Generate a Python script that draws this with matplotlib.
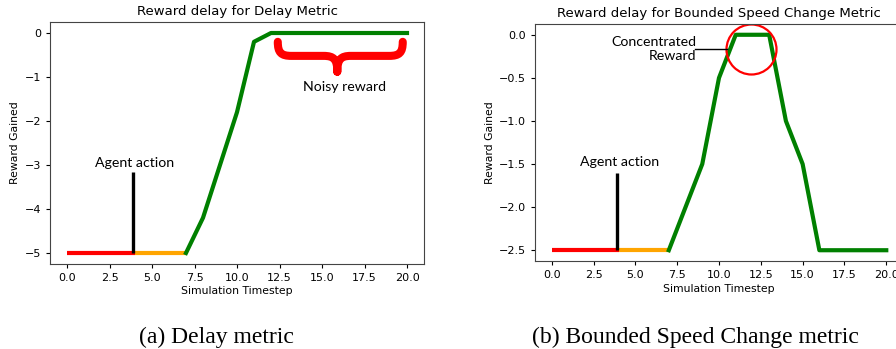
import numpy as np
import matplotlib.pyplot as plt
from matplotlib.path import Path
from matplotlib.patches import PathPatch

# left panel: delay metric
t_red = [0, 4]
t_orange = [4, 7]
t_green = [7, 8, 9, 10, 11, 12, 13, 14, 15, 16, 17, 18, 19, 20]
delay_base = -5
delay_green = [-5, -4.2, -3.0, -1.8, -0.2, 0, 0, 0, 0, 0, 0, 0, 0, 0]

# right panel: bounded speed change metric
speed_base = -2.5
speed_green = [-2.5, -2.0, -1.5, -0.5, 0, 0, 0, -1.0, -1.5, -2.5, -2.5, -2.5, -2.5, -2.5]

action_t = 3.9
W, H = 896, 349
fig = plt.figure(figsize=(W / 100, H / 100), dpi=100)

def px_axes(l, t, r, b):
    return fig.add_axes([l / W, 1 - b / H, (r - l) / W, (b - t) / H])

ann_font = "Lato"
lw = 3.0


def base_plot(ax, base, green, title):
    ax.plot(t_red, [base, base], color="red", lw=lw, solid_capstyle="butt")
    ax.plot(t_orange, [base, base], color="orange", lw=lw, solid_capstyle="butt")
    ax.plot(t_green, green, color="green", lw=lw)
    ax.set_title(title, fontsize=9.5, pad=5)
    ax.set_xlabel("Simulation Timestep", fontsize=7.8, labelpad=2.5)
    ax.set_ylabel("Reward Gained", fontsize=7.8, labelpad=3)
    ax.tick_params(labelsize=8, length=3, width=0.8, pad=3.5)
    for s in ax.spines.values():
        s.set_color("#444444")
        s.set_linewidth(0.8)


ax1 = px_axes(50, 22, 424, 264)
base_plot(ax1, delay_base, delay_green, "Reward delay for Delay Metric")
ax1.plot([action_t, action_t], [-5, -3.15], color="black", lw=2.4, solid_capstyle="butt")
ax1.text(4.0, -2.95, "Agent action", fontsize=10.2, family=ann_font,
         ha="center", va="center")

# curly brace under the flat part
verts = [(12.4, -0.2), (12.4, -0.45), (12.6, -0.52), (13.2, -0.52),
         (15.1, -0.52),
         (15.7, -0.52), (15.9, -0.6), (15.9, -0.88),
         (15.9, -0.88),
         (15.9, -0.6), (16.1, -0.52), (16.7, -0.52),
         (18.95, -0.52),
         (19.55, -0.52), (19.75, -0.45), (19.75, -0.2)]
codes = [Path.MOVETO, Path.CURVE4, Path.CURVE4, Path.CURVE4,
         Path.LINETO,
         Path.CURVE4, Path.CURVE4, Path.CURVE4,
         Path.MOVETO,
         Path.CURVE4, Path.CURVE4, Path.CURVE4,
         Path.LINETO,
         Path.CURVE4, Path.CURVE4, Path.CURVE4]
brace = PathPatch(Path(verts, codes), facecolor="none", edgecolor="red",
                  lw=5.8, capstyle="round", joinstyle="round")
ax1.add_patch(brace)
ax1.text(16.3, -1.22, "Noisy reward", fontsize=10.2, family=ann_font,
         ha="center", va="center")

ax2 = px_axes(535, 24, 903, 261)
base_plot(ax2, speed_base, speed_green, "Reward delay for Bounded Speed Change Metric")
ax2.plot([action_t, action_t], [-2.5, -1.6], color="black", lw=2.4, solid_capstyle="butt")
ax2.text(4.05, -1.48, "Agent action", fontsize=10.2, family=ann_font,
         ha="center", va="center")
ax2.plot([11.93], [-0.17], marker="o", ms=36, mfc="none", mec="red", mew=1.6)
ax2.plot([8.57, 10.48], [-0.165, -0.165], color="black", lw=1.0)
ax2.text(8.65, -0.165, "Concentrated\nReward", fontsize=10.2, family=ann_font,
         ha="right", va="center", multialignment="right", linespacing=1.25)
ax2.set_xticks([0, 2.5, 5, 7.5, 10, 12.5, 15, 17.5, 20])

fig.text(216 / W, 1 - 337 / H, "(a) Delay metric", family="Liberation Serif",
         fontsize=17, ha="center", va="center")
fig.text(695 / W, 1 - 337 / H, "(b) Bounded Speed Change metric", family="Liberation Serif",
         fontsize=17, ha="center", va="center")

fig.savefig("out.png", dpi=100)
